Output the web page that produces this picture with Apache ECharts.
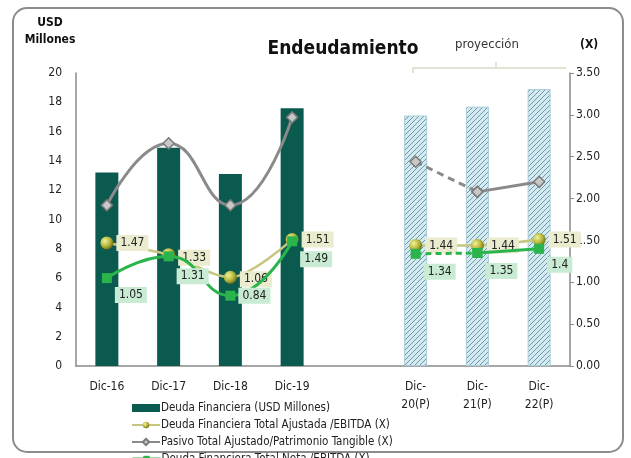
<!DOCTYPE html>
<html lang="es">
<head>
<meta charset="UTF-8">
<title>Endeudamiento</title>
<script src="https://cdn.jsdelivr.net/npm/echarts@6/dist/echarts.min.js"></script>
<style>
  body { margin: 0; padding: 0; background: #fff; }
  #main { width: 631px; height: 458px; }
</style>
</head>
<body>
<div id="main"></div>
<script>
// categorias (la 5a queda vacia para separar la proyeccion)
var categories = ['Dic-16', 'Dic-17', 'Dic-18', 'Dic-19', '', 'Dic-\n20(P)', 'Dic-\n21(P)', 'Dic-\n22(P)'];
var projected = [false, false, false, false, false, true, true, true];

// Deuda Financiera (USD Millones)
var deuda = [13.2, 14.9, 13.1, 17.6, null, 17.1, 17.7, 18.9];
// Deuda Financiera Total Ajustada / EBITDA (X)
var ajustada = [1.47, 1.33, 1.06, 1.51, null, 1.44, 1.44, 1.51];
// Pasivo Total Ajustado / Patrimonio Tangible (X)
var pasivo = [1.92, 2.66, 1.92, 2.97, null, 2.44, 2.08, 2.2];
// Deuda Financiera Total Neta / EBITDA (X)
var neta = [1.05, 1.31, 0.84, 1.49, null, 1.34, 1.35, 1.40];

var leftTicks = { min: 0, max: 20, interval: 2 };
var rightTicks = { min: 0, max: 3.5, interval: 0.5 };

var FONT = "'DejaVu Sans Condensed', 'DejaVu Sans', sans-serif";

// trama rayada para las barras proyectadas
var pat = document.createElement('canvas');
pat.width = 5; pat.height = 5;
var pc = pat.getContext('2d');
pc.fillStyle = '#d3ebf0';
pc.fillRect(0, 0, 5, 5);
pc.strokeStyle = '#6f97a8';
pc.lineWidth = 1;
pc.beginPath();
pc.moveTo(0, 5); pc.lineTo(5, 0);
pc.moveTo(-2.5, 2.5); pc.lineTo(2.5, -2.5);
pc.moveTo(2.5, 7.5); pc.lineTo(7.5, 2.5);
pc.stroke();

// desplazamiento de etiquetas (estilo)
var ajOffsets = [[0, 0], [0, 3], [0, 2], [0, 0], null, [0, 0], [0, 0], [0, 0]];
var netaOffsets = [[0, 17], [0, 20], [0, 0], [0, 18], null, [0, 18], [0, 18], [0, 16]];

function pick(arr, from, to) {
  return arr.map(function (v, i) { return (i >= from && i <= to) ? v : null; });
}

var barData = deuda.map(function (v, i) {
  if (!projected[i]) return v;
  return {
    value: v,
    itemStyle: { color: { image: pat, repeat: 'repeat' }, borderColor: '#a9cbd8', borderWidth: 1 }
  };
});

function labelled(arr, offsets, bg) {
  return arr.map(function (v, i) {
    if (v == null) return null;
    return {
      value: v,
      label: {
        show: true, position: 'right', offset: offsets[i], distance: 3,
        backgroundColor: bg, padding: [2, 4], color: '#222',
        fontSize: 12, fontFamily: FONT,
        formatter: function (p) { return String(p.value); }
      }
    };
  });
}

var grayStyle = { color: '#8a8a8a', width: 3 };
var grayItem = { color: '#c8c8c8', borderColor: '#7a7a7a', borderWidth: 1.5 };
var greenColor = '#2cb44c';
var oliveItem = {
  color: { type: 'radial', x: 0.35, y: 0.35, r: 0.7,
    colorStops: [{ offset: 0, color: '#f2f29a' }, { offset: 0.6, color: '#b4b43a' }, { offset: 1, color: '#6e6e18' }] }
};

var legendText = { fontSize: 11.5, color: '#222', fontFamily: FONT, padding: [0, 0, 0, -4] };

var chart = echarts.init(document.getElementById('main'));
chart.setOption({
  animation: false,
  textStyle: { fontFamily: FONT },
  title: {
    text: 'Endeudamiento', left: 338, top: 35, textAlign: 'center',
    textStyle: { fontSize: 19, fontWeight: 'bold', color: '#111', fontFamily: FONT }
  },
  grid: { left: 76, right: 61, top: 73, bottom: 92 },
  legend: [
    {
      orient: 'vertical', left: 126, top: 397, itemGap: 5,
      itemWidth: 28, itemHeight: 8,
      data: [
        { name: 'Deuda Financiera (USD Millones)', icon: 'rect' },
        'Deuda Financiera Total Ajustada /EBITDA (X)',
        { name: 'Pasivo Total Ajustado/Patrimonio Tangible (X)', lineStyle: { type: 'solid' } }
      ],
      textStyle: legendText
    },
    {
      orient: 'vertical', left: 126, top: 448,
      itemWidth: 28, itemHeight: 8,
      data: [{ name: 'Deuda Financiera Total Neta /EBITDA (X)', lineStyle: { type: 'solid', width: 3, color: greenColor } }],
      textStyle: legendText
    }
  ],
  xAxis: {
    type: 'category', data: categories,
    axisLine: { lineStyle: { color: '#8a8a8a', width: 1.5 } },
    axisTick: { show: false },
    axisLabel: { color: '#222', fontSize: 12, margin: 12, lineHeight: 18, interval: 0, fontFamily: FONT }
  },
  yAxis: [
    {
      type: 'value', min: leftTicks.min, max: leftTicks.max, interval: leftTicks.interval,
      axisLine: { show: true, lineStyle: { color: '#8a8a8a', width: 1.5 } },
      axisTick: { show: false }, splitLine: { show: false },
      axisLabel: { color: '#222', fontSize: 12, margin: 14, fontFamily: FONT }
    },
    {
      type: 'value', min: rightTicks.min, max: rightTicks.max, interval: rightTicks.interval,
      axisLine: { show: true, lineStyle: { color: '#8a8a8a', width: 1.5 } },
      axisTick: { show: true, length: 4, lineStyle: { color: '#8a8a8a' } },
      splitLine: { show: false },
      axisLabel: { color: '#222', fontSize: 12, margin: 6, fontFamily: FONT,
        formatter: function (v) { return v.toFixed(2); } }
    }
  ],
  series: [
    {
      name: 'Deuda Financiera (USD Millones)', type: 'bar', barWidth: 23,
      itemStyle: { color: '#0b5a50' }, data: barData, z: 1
    },
    {
      name: 'Pasivo Total Ajustado/Patrimonio Tangible (X)', type: 'line', yAxisIndex: 1,
      smooth: true, symbol: 'diamond', symbolSize: 11, lineStyle: grayStyle, itemStyle: grayItem,
      data: pick(pasivo, 0, 3), z: 3
    },
    {
      name: 'Pasivo Total Ajustado/Patrimonio Tangible (X)', type: 'line', yAxisIndex: 1,
      smooth: true, symbol: 'diamond', symbolSize: 11,
      lineStyle: { color: '#8a8a8a', width: 3, type: [7, 5] }, itemStyle: grayItem,
      data: pick(pasivo, 5, 6), z: 3
    },
    {
      name: 'Pasivo Total Ajustado/Patrimonio Tangible (X)', type: 'line', yAxisIndex: 1,
      smooth: true, symbol: 'diamond', symbolSize: 11, lineStyle: grayStyle, itemStyle: grayItem,
      data: pick(pasivo, 6, 7), z: 3
    },
    {
      name: 'Deuda Financiera Total Ajustada /EBITDA (X)', type: 'line', yAxisIndex: 1,
      smooth: 0.3, symbol: 'circle', symbolSize: 13,
      lineStyle: { color: '#c6c67e', width: 2.5 }, itemStyle: oliveItem,
      data: labelled(ajustada, ajOffsets, '#ebebcf'), z: 4
    },
    {
      name: 'Deuda Financiera Total Neta /EBITDA (X)', type: 'line', yAxisIndex: 1,
      smooth: true, symbol: 'rect', symbolSize: 10,
      lineStyle: { color: greenColor, width: 3 }, itemStyle: { color: greenColor },
      data: labelled(pick(neta, 0, 3), netaOffsets, '#c9ebd3'), z: 5
    },
    {
      name: 'Deuda Financiera Total Neta /EBITDA (X)', type: 'line', yAxisIndex: 1,
      smooth: true, symbol: 'rect', symbolSize: 10,
      lineStyle: { color: greenColor, width: 3, type: [6, 4] }, itemStyle: { color: greenColor },
      data: labelled(pick(neta, 5, 5), netaOffsets, '#c9ebd3').map(function (d, i) {
        return i === 6 ? { value: neta[6], label: { show: false } } : d;
      }), z: 5
    },
    {
      name: 'Deuda Financiera Total Neta /EBITDA (X)', type: 'line', yAxisIndex: 1,
      smooth: true, symbol: 'rect', symbolSize: 10,
      lineStyle: { color: greenColor, width: 3 }, itemStyle: { color: greenColor },
      data: labelled(pick(neta, 6, 7), netaOffsets, '#c9ebd3'), z: 5
    }
  ],
  graphic: [
    { type: 'rect', shape: { x: 13, y: 8, width: 610, height: 444, r: 14 },
      style: { fill: 'none', stroke: '#8c8c8c', lineWidth: 2 }, z: -1 },
    { type: 'text', x: 50, y: 14,
      style: { text: 'USD\nMillones', fontSize: 12, fontWeight: 'bold', lineHeight: 17,
        align: 'center', fill: '#111', fontFamily: FONT } },
    { type: 'text', left: 455, top: 38,
      style: { text: 'proyección', fontSize: 13, fill: '#333', fontFamily: FONT } },
    { type: 'text', left: 580, top: 39,
      style: { text: '(X)', fontSize: 12, fontWeight: 'bold', fill: '#111', fontFamily: FONT } },
    { type: 'polyline', shape: { points: [[413, 73], [413, 68], [566, 68]] },
      style: { stroke: '#d6dcc6', lineWidth: 1.5, fill: 'none' } },
    { type: 'line', shape: { x1: 496, y1: 68, x2: 496, y2: 62 },
      style: { stroke: '#d6dcc6', lineWidth: 1.5 } }
  ]
});
</script>
</body>
</html>
